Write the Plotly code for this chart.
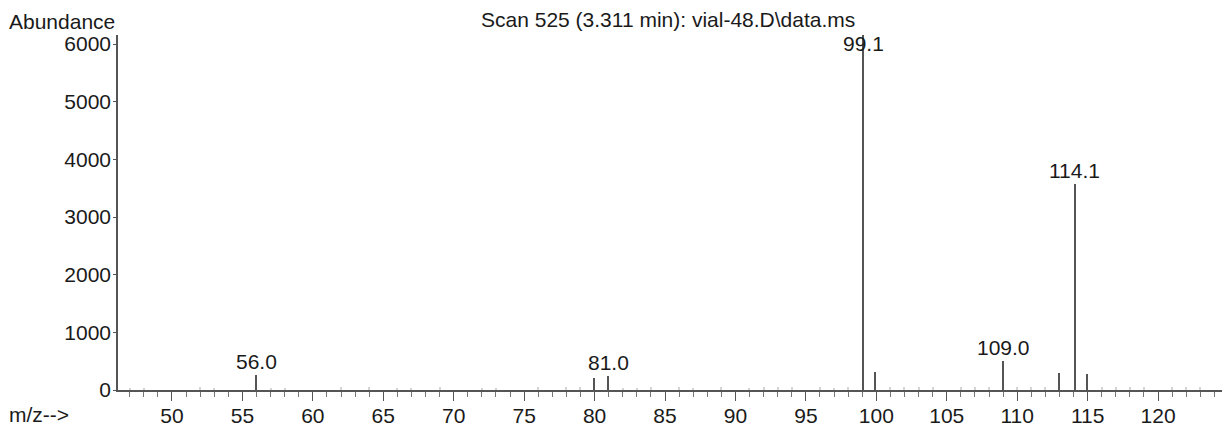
import plotly.graph_objects as go

# Main peaks (m/z, abundance)
peak_mz = [56.0, 80.0, 81.0, 99.1, 99.9, 109.0, 113.0, 114.1, 115.0]
peak_ab = [260, 210, 245, 6300, 310, 500, 300, 3570, 280]

# Peaks carrying a text label
label_mz = [56.0, 81.0, 99.1, 109.0, 114.1]
label_ab = [260, 245, 6300, 500, 3570]
label_txt = ["56.0", "81.0", "99.1", "109.0", "114.1"]

# Faint low-level noise sticks
noise_mz = [47, 48, 52, 53, 57, 58, 62, 64, 66, 67, 69, 72, 73, 76, 78, 79,
            82, 83, 84, 86, 87, 89, 91, 92, 93, 94, 96, 97, 98, 101, 102, 103,
            104, 106, 107, 108, 110, 111, 112, 116, 117, 118, 119, 121, 122, 123]
noise_ab = [40, 35, 45, 35, 40, 35, 45, 45, 35, 40, 45, 35, 40, 45, 45, 50,
            40, 35, 45, 45, 40, 50, 40, 45, 50, 45, 45, 40, 50, 60, 55, 45,
            55, 55, 60, 55, 55, 60, 55, 55, 60, 50, 55, 55, 55, 60]

title_text = "Scan 525 (3.311 min): vial-48.D\\data.ms"
y_title = "Abundance"
x_title = "m/z-->"
y_ticks = [0, 1000, 2000, 3000, 4000, 5000, 6000]
x_ticks = [50, 55, 60, 65, 70, 75, 80, 85, 90, 95, 100, 105, 110, 115, 120]

X_RANGE = [46.17, 124.54]
Y_RANGE = [0, 6156]
FONT = "Liberation Sans, Arial, sans-serif"
FS = 21
TXT = "#1a1a1a"

# plot area in pixels (for placing paper-referenced texts)
L, R, T, B, W, H = 118, 4, 35, 37, 1226, 427
PW, PH = W - L - R, H - T - B


def px_x(x):
    return (x - L) / PW


def px_y(y):
    return (H - B - y) / PH


fig = go.Figure()
fig.add_trace(go.Bar(x=noise_mz, y=noise_ab, width=0.08,
                     marker=dict(color="#d4d4d4", line=dict(width=0)),
                     hoverinfo="skip"))
fig.add_trace(go.Bar(x=peak_mz, y=peak_ab, width=0.11,
                     marker=dict(color="#555555", line=dict(width=0))))

for mz, ab, t in zip(label_mz, label_ab, label_txt):
    if ab > Y_RANGE[1]:
        fig.add_annotation(x=mz, y=Y_RANGE[1], xref="x", yref="y", text=t,
                           showarrow=False, yanchor="top", xanchor="center",
                           yshift=5, font=dict(family=FONT, size=FS, color=TXT))
    else:
        fig.add_annotation(x=mz, y=ab, xref="x", yref="y", text=t,
                           showarrow=False, yanchor="bottom", xanchor="center",
                           yshift=0, font=dict(family=FONT, size=FS, color=TXT))

fig.add_annotation(x=px_x(668), y=px_y(19), xref="paper", yref="paper", text=title_text,
                   showarrow=False, xanchor="center", yanchor="middle",
                   font=dict(family=FONT, size=FS, color=TXT))
fig.add_annotation(x=px_x(7), y=px_y(21), xref="paper", yref="paper", text=y_title,
                   showarrow=False, xanchor="left", yanchor="middle",
                   font=dict(family=FONT, size=FS, color=TXT))
fig.add_annotation(x=px_x(7), y=px_y(415), xref="paper", yref="paper", text=x_title,
                   showarrow=False, xanchor="left", yanchor="middle",
                   font=dict(family=FONT, size=FS, color=TXT))

fig.update_layout(
    width=W, height=H,
    margin=dict(l=L, r=R, t=T, b=B, pad=0, autoexpand=False),
    paper_bgcolor="white", plot_bgcolor="white",
    showlegend=False, barmode="overlay", bargap=0,
    font=dict(family=FONT, size=FS, color=TXT),
)
fig.update_xaxes(range=X_RANGE, tickvals=x_ticks, ticktext=[str(v) for v in x_ticks],
                 showgrid=False, zeroline=False, showline=True, linecolor="#555",
                 linewidth=1.5, ticks="outside", ticklen=9, tickcolor="#555",
                 tickwidth=1.2, ticklabelstandoff=-3, automargin=False,
                 minor=dict(dtick=1, tick0=0, ticks="outside", ticklen=5,
                            tickcolor="#777", tickwidth=1),
                 tickfont=dict(family=FONT, size=FS, color=TXT))
fig.update_yaxes(range=Y_RANGE, tickvals=y_ticks, ticktext=[str(v) for v in y_ticks],
                 showgrid=False, zeroline=False, showline=True, linecolor="#555",
                 linewidth=1.5, ticks="outside", ticklen=3, tickcolor="#555",
                 ticklabelstandoff=-2, automargin=False,
                 tickfont=dict(family=FONT, size=FS, color=TXT))

fig.write_html("out.html", config={"displayModeBar": False},
               post_script="document.body.style.margin='0';document.body.style.overflow='hidden';")
